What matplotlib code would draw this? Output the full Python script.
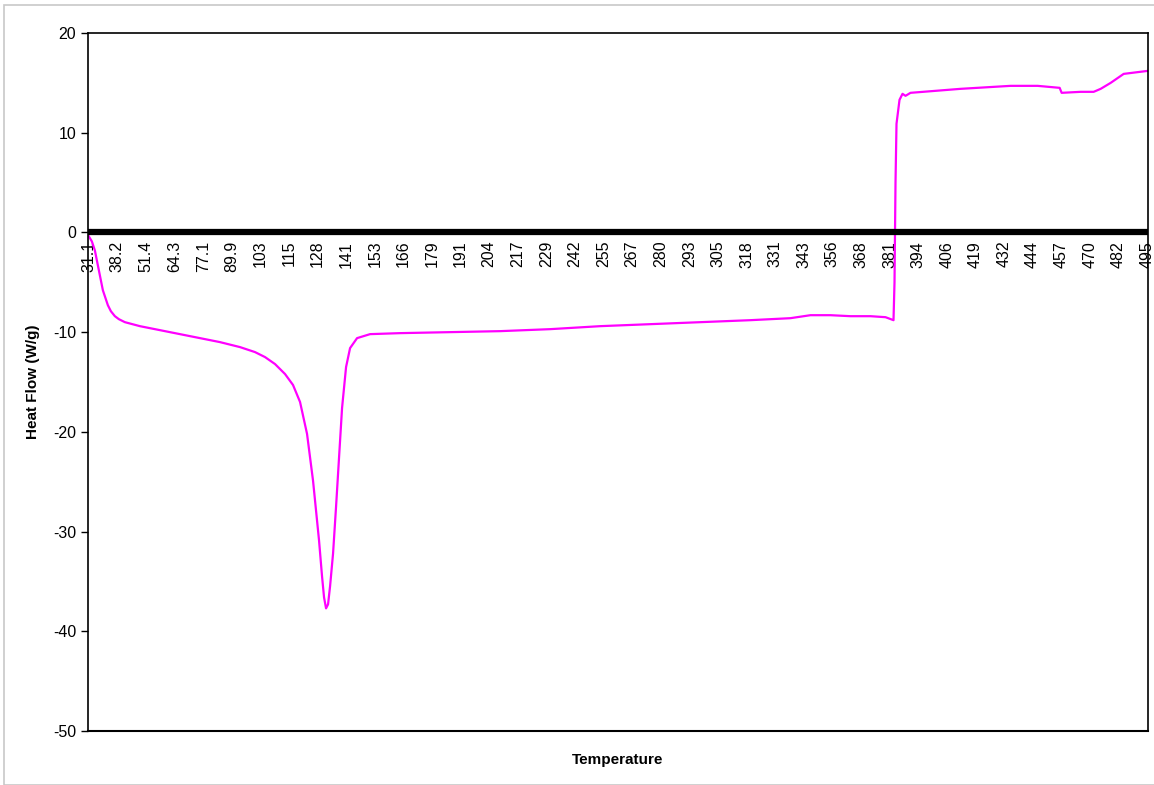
import matplotlib
matplotlib.use("Agg")
from matplotlib import pyplot as plt
from matplotlib.patches import Rectangle

plt.rcParams['font.family'] = ['Liberation Sans', 'DejaVu Sans']
plt.rcParams['axes.unicode_minus'] = False

# category labels along the temperature axis
temp_labels = ['31.1', '38.2', '51.4', '64.3', '77.1', '89.9', '103', '115', '128',
               '141', '153', '166', '179', '191', '204', '217', '229', '242', '255',
               '267', '280', '293', '305', '318', '331', '343', '356', '368', '381',
               '394', '406', '419', '432', '444', '457', '470', '482', '495']

# curve position in label units (0 = first label) and heat flow (W/g)
curve_pos = [0.00, 0.105, 0.21, 0.35, 0.49, 0.665, 0.77, 0.91, 1.05, 1.26, 1.785,
             2.485, 3.185, 3.885, 4.585, 5.285, 5.81, 6.16, 6.51, 6.86, 7.14, 7.385,
             7.63, 7.84, 8.05, 8.155, 8.225, 8.295, 8.365, 8.435, 8.54, 8.645, 8.715,
             8.855, 8.995, 9.135, 9.38, 9.835, 10.885, 12.635, 14.385, 16.135, 17.885,
             19.635, 21.385, 23.135, 24.535, 25.235, 25.935, 26.635, 27.335, 27.86,
             28.14, 28.175, 28.21, 28.245, 28.35, 28.455, 28.56, 28.735, 30.485,
             32.235, 33.18, 33.95, 34.02, 34.685, 35.14, 35.385, 35.735, 36.19, 37.03]
heat_flow = [-0.4, -0.9, -1.8, -3.8, -5.8, -7.3, -7.9, -8.4, -8.7, -9.0, -9.4,
             -9.8, -10.2, -10.6, -11.0, -11.5, -12.0, -12.5, -13.2, -14.2, -15.3, -17.0,
             -20.2, -24.9, -30.9, -34.5, -36.6, -37.7, -37.3, -35.5, -32.2, -27.5, -24.2,
             -17.6, -13.5, -11.6, -10.6, -10.2, -10.1, -10.0, -9.9, -9.7, -9.4,
             -9.2, -9.0, -8.8, -8.6, -8.3, -8.3, -8.4, -8.4, -8.5,
             -8.8, -5.0, 5.0, 10.9, 13.3, 13.9, 13.7, 14.0, 14.4,
             14.7, 14.7, 14.5, 14.0, 14.1, 14.1, 14.4, 15.0, 15.9, 16.2]

fig = plt.figure(figsize=(11.54, 7.85), dpi=100)
ax = fig.add_axes([88 / 1154, 1 - 731 / 785, (1148 - 88) / 1154, (731 - 33) / 785])

ax.plot(curve_pos, heat_flow, color='#FF00FF', linewidth=1.6)

ax.set_xlim(-0.03, 37.04)
ax.set_ylim(-50, 20)
ax.set_yticks(range(-50, 21, 10))
ax.tick_params(axis='y', direction='out', length=5, labelsize=11.5, width=1)

# category axis crosses at zero
ax.spines['bottom'].set_position(('data', 0))
ax.spines['bottom'].set_linewidth(4.5)
ax.spines['bottom'].set_capstyle('butt')
ax.set_xticks(range(len(temp_labels)))
ax.set_xticklabels(temp_labels, rotation=90, fontsize=11.5, va='top', ha='center')
ax.tick_params(axis='x', length=0, pad=6)
for side in ['left', 'right', 'top']:
    ax.spines[side].set_linewidth(1.2)
ax.axhline(-50, color='black', linewidth=1.5, clip_on=False)

fig.text(618 / 1154, 1 - 760 / 785, 'Temperature', ha='center', va='center',
         fontsize=11, fontweight='bold')
fig.text(33 / 1154, 1 - 382 / 785, 'Heat Flow (W/g)', ha='center', va='center',
         rotation=90, fontsize=11, fontweight='bold')

# light frame around the chart area
fig.patches.append(Rectangle((4 / 1154, 0), 1.2, 1 - 5 / 785, transform=fig.transFigure,
                             fill=False, edgecolor='#c8c8c8', linewidth=1.2))

plt.savefig('out.png', dpi=100)
